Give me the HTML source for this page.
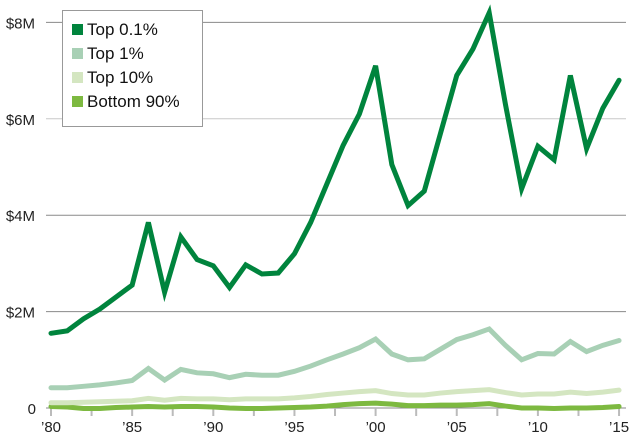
<!DOCTYPE html>
<html><head><meta charset="utf-8"><style>
body{margin:0;background:#fff;}
svg{display:block;font-family:"Liberation Sans",sans-serif;}
</style></head><body>
<svg id="c" width="630" height="436"></svg>
<script>
const years=[1980,1981,1982,1983,1984,1985,1986,1987,1988,1989,1990,1991,1992,1993,1994,1995,1996,1997,1998,1999,2000,2001,2002,2003,2004,2005,2006,2007,2008,2009,2010,2011,2012,2013,2014,2015];
const top01=[1.55,1.6,1.85,2.05,2.3,2.55,3.85,2.4,3.55,3.08,2.95,2.5,2.97,2.78,2.8,3.2,3.85,4.65,5.45,6.1,7.1,5.05,4.2,4.5,5.7,6.9,7.45,8.2,6.3,4.55,5.43,5.15,6.9,5.38,6.22,6.8];
const top1=[0.42,0.42,0.45,0.48,0.52,0.57,0.82,0.58,0.8,0.73,0.71,0.63,0.7,0.68,0.68,0.76,0.87,1.0,1.12,1.25,1.43,1.12,1.0,1.02,1.22,1.42,1.52,1.64,1.3,1.0,1.13,1.12,1.38,1.17,1.3,1.4];
const top10=[0.11,0.11,0.12,0.13,0.14,0.15,0.2,0.16,0.2,0.19,0.19,0.17,0.19,0.19,0.19,0.21,0.24,0.28,0.31,0.34,0.36,0.3,0.27,0.27,0.31,0.34,0.36,0.38,0.32,0.27,0.29,0.29,0.33,0.3,0.33,0.37];
const bot90=[0.03,0.02,-0.01,-0.01,0.01,0.02,0.03,0.02,0.03,0.03,0.02,0.0,-0.01,-0.01,0.0,0.01,0.02,0.04,0.07,0.09,0.1,0.08,0.05,0.05,0.06,0.06,0.07,0.09,0.04,0.0,0.0,-0.01,0.0,0.0,0.01,0.03];
const yTicks=[0,2,4,6,8];
const yTickLabels=["0","$2M","$4M","$6M","$8M"];
const xLabelYears=[1980,1985,1990,1995,2000,2005,2010,2015];
const xLabels=["’80","’85","’90","’95","’00","’05","’10","’15"];
const NS="http://www.w3.org/2000/svg";
const svg=document.getElementById('c');
const xs=y=>51+(y-1980)*16.23;
const ys=v=>408-v*48.2;
function el(t,a,p){const e=document.createElementNS(NS,t);for(const k in a)e.setAttribute(k,a[k]);(p||svg).appendChild(e);return e;}
yTicks.forEach((t,i)=>{
 const g=el('line',{x1:46,x2:626,y1:ys(t),y2:ys(t),stroke:t==6?'#c8c8c8':'#8a8a8a','stroke-width':1});
 
 
 const tx=el('text',{x:t==0?36:35,y:ys(t)+6,'text-anchor':'end','font-size':15,fill:'#222'});
 tx.textContent=yTickLabels[i];
 
 
});
for(let y=1980;y<=2015;y+=2.5){
 const tk=el('line',{x1:xs(y),x2:xs(y),y1:408,y2:416,stroke:'#bbb','stroke-width':2});
 
 
}
xLabelYears.forEach((y,i)=>{
 const tx=el('text',{x:xs(y),y:432,'text-anchor':'middle','font-size':15,fill:'#222'});
 tx.textContent=xLabels[i];
 
 
});
const series=[[bot90,'#7db940','bottom-90-line'],[top10,'#d4e6c1','top-10-line'],[top1,'#a8d0b5','top-1-line'],[top01,'#00843d','top-01-line']];
series.forEach(([d,c,n])=>{
 const p=el('polyline',{points:d.map((v,i)=>xs(years[i])+','+ys(v)).join(' '),fill:'none',stroke:c,'stroke-width':5,'stroke-linejoin':'miter','stroke-linecap':'round'});
 
 
});
const lg=el('g',{});


el('rect',{x:62.5,y:10.5,width:140,height:116,fill:'#fff',stroke:'#999','stroke-width':1},lg);
const legendNames=["Top 0.1%","Top 1%","Top 10%","Bottom 90%"];
const legendColors=['#00843d','#a8d0b5','#d4e6c1','#7db940'];
legendNames.forEach((nm,i)=>{
 const yy=34+i*24;
 el('rect',{x:72,y:yy-10,width:11,height:11,fill:legendColors[i]},lg);
 const t=el('text',{x:87,y:yy+1,'font-size':17,fill:'#111'},lg);
 t.textContent=nm;
 
 
});
</script>
</body></html>
